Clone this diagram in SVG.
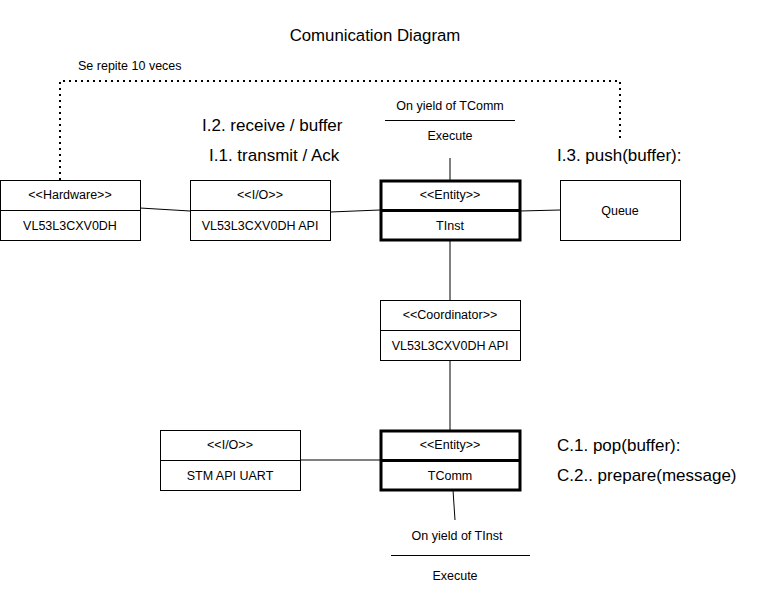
<svg xmlns="http://www.w3.org/2000/svg" width="757" height="592" viewBox="0 0 757 592">
<style>
text{font-family:"Liberation Sans",Arial,sans-serif;fill:#000}
.n{font-size:12.5px;text-anchor:middle}
.l{font-size:17px}
.box{fill:#fff;stroke:#000;stroke-width:1}
.ent{fill:#fff;stroke:#000;stroke-width:3}
.c{stroke:#000;stroke-width:1;fill:none}
.dot{stroke:#000;stroke-width:2;fill:none;stroke-dasharray:2 4}
</style>
<rect width="757" height="592" fill="#fff"/>
<text x="375" y="41" style="font-size:16.8px" text-anchor="middle">Comunication Diagram</text>
<text x="78" y="70" style="font-size:12.5px">Se repite 10 veces</text>
<g id="connectors">
<polyline class="dot" points="60,180 60,81 620,81 620,140"/>
<line class="c" x1="140" y1="208" x2="190" y2="211"/>
<line class="c" x1="330" y1="212" x2="380" y2="210"/>
<line class="c" x1="520" y1="211" x2="560" y2="210"/>
<line class="c" x1="450" y1="158" x2="450" y2="180"/>
<line class="c" x1="450" y1="240" x2="450" y2="300"/>
<line class="c" x1="450" y1="360" x2="450" y2="430"/>
<line class="c" x1="300" y1="460" x2="380" y2="460"/>
<line class="c" x1="453" y1="490" x2="455" y2="520"/>
<line class="c" x1="385" y1="120.5" x2="515" y2="120.5"/>
<line class="c" x1="391" y1="555.5" x2="530" y2="555.5"/>
</g>
<text x="202" y="131" class="l">I.2. receive / buffer</text>
<text x="209" y="161" class="l">I.1. transmit / Ack</text>
<text x="557" y="161" class="l">I.3. push(buffer):</text>
<text x="557" y="451" class="l">C.1. pop(buffer):</text>
<text x="557" y="481" class="l">C.2.. prepare(message)</text>
<text x="450" y="110" class="n">On yield of TComm</text>
<text x="450" y="140" class="n">Execute</text>
<text x="457" y="540" class="n">On yield of TInst</text>
<text x="455" y="580" class="n">Execute</text>
<g id="hardware">
<rect class="box" x="0.5" y="180.5" width="140" height="60"/>
<line class="c" x1="0.5" y1="210.5" x2="140.5" y2="210.5"/>
<text x="70" y="199" class="n">&lt;&lt;Hardware&gt;&gt;</text>
<text x="70" y="230" class="n">VL53L3CXV0DH</text>
</g>
<g id="io-api">
<rect class="box" x="190.5" y="180.5" width="140" height="60"/>
<line class="c" x1="190.5" y1="210.5" x2="330.5" y2="210.5"/>
<text x="260" y="199" class="n">&lt;&lt;I/O&gt;&gt;</text>
<text x="260" y="230" class="n">VL53L3CXV0DH API</text>
</g>
<g id="tinst">
<rect class="ent" x="381" y="181" width="139" height="59"/>
<line class="c" x1="381" y1="210.5" x2="520" y2="210.5" style="stroke-width:3"/>
<text x="450" y="199" class="n">&lt;&lt;Entity&gt;&gt;</text>
<text x="450" y="230" class="n">TInst</text>
</g>
<g id="queue">
<rect class="box" x="560.5" y="180.5" width="120" height="60"/>
<text x="620" y="215" class="n">Queue</text>
</g>
<g id="coordinator">
<rect class="box" x="380.5" y="300.5" width="140" height="60"/>
<line class="c" x1="380.5" y1="330.5" x2="520.5" y2="330.5"/>
<text x="450" y="319" class="n">&lt;&lt;Coordinator&gt;&gt;</text>
<text x="450" y="350" class="n">VL53L3CXV0DH API</text>
</g>
<g id="stm-uart">
<rect class="box" x="160.5" y="430.5" width="140" height="60"/>
<line class="c" x1="160.5" y1="460.5" x2="300.5" y2="460.5"/>
<text x="230" y="449" class="n">&lt;&lt;I/O&gt;&gt;</text>
<text x="230" y="480" class="n">STM API UART</text>
</g>
<g id="tcomm">
<rect class="ent" x="381" y="431" width="139" height="59"/>
<line class="c" x1="381" y1="460.5" x2="520" y2="460.5" style="stroke-width:3"/>
<text x="450" y="449" class="n">&lt;&lt;Entity&gt;&gt;</text>
<text x="450" y="480" class="n">TComm</text>
</g>
</svg>
